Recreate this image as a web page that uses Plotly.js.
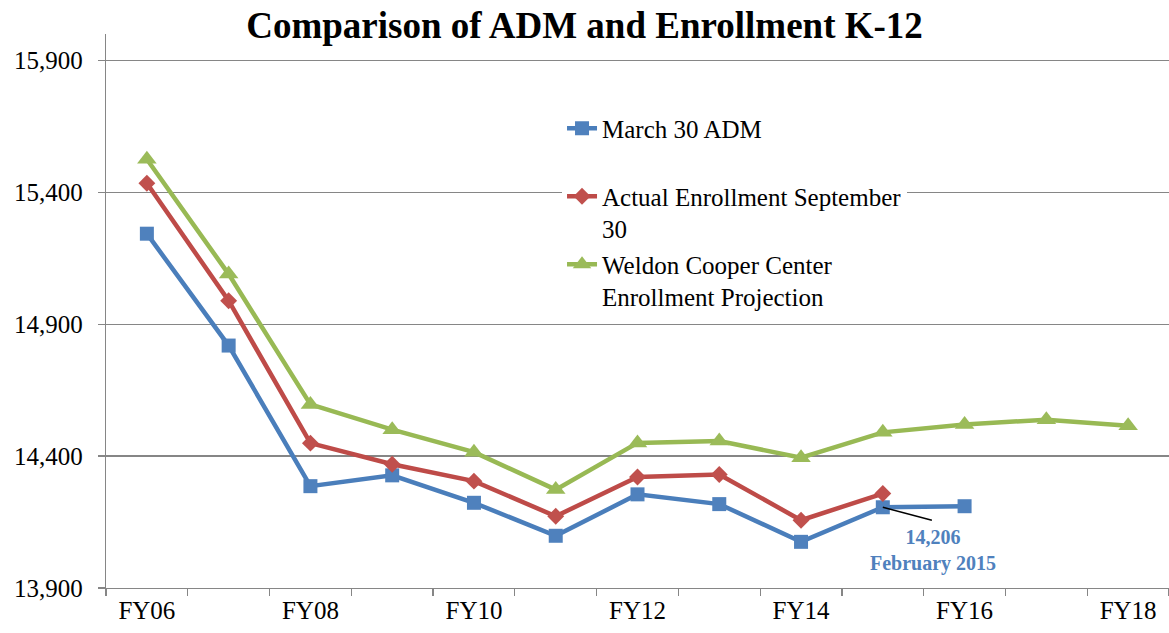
<!DOCTYPE html>
<html>
<head>
<meta charset="utf-8">
<script src="https://cdn.plot.ly/plotly-3.0.1.min.js"></script>
<style>html,body{margin:0;padding:0;background:#fff;}#chart{width:1169px;height:633px;}</style>
</head>
<body>
<div id="chart"></div>
<script>
const categories = ['FY06','FY07','FY08','FY09','FY10','FY11','FY12','FY13','FY14','FY15','FY16','FY17','FY18'];
const tickLabels = ['FY06','','FY08','','FY10','','FY12','','FY14','','FY16','','FY18'];
const marchADM = [15243, 14819, 14286, 14327, 14223, 14098, 14255, 14218, 14075, 14206, 14210, null, null];
const actualEnrollment = [15434, 14989, 14449, 14369, 14305, 14172, 14321, 14330, 14157, 14258, null, null, null];
const weldonProjection = [15525, 15090, 14596, 14500, 14415, 14273, 14450, 14457, 14394, 14490, 14520, 14538, 14515];
const seriesNames = ['March 30 ADM<br> ', 'Actual Enrollment September<br>30', 'Weldon Cooper Center<br>Enrollment Projection'];
const calloutCategory = 'FY15';
const calloutValue = 14206;
const calloutText = '14,206<br>February 2015';

const serif = '"Liberation Serif", "Times New Roman", serif';
const grid = '#868686';

const traces = [
  {x: categories, y: marchADM, name: seriesNames[0], legendgroup: 'a', mode: 'lines+markers',
   line: {color: '#4A7EBB', width: 4.5}, marker: {symbol: 'square', size: 14, color: '#4F81BD'}},
  {x: categories, y: actualEnrollment, name: seriesNames[1], legendgroup: 'b', mode: 'lines+markers',
   line: {color: '#BE4B48', width: 4.5}, marker: {symbol: 'diamond', size: 13, color: '#C0504D'}},
  {x: categories, y: weldonProjection, name: seriesNames[2], legendgroup: 'c', mode: 'lines+markers',
   line: {color: '#98B954', width: 4.5}, marker: {symbol: 'triangle-up', size: 17, color: '#9BBB59'}}
];

const ci = categories.indexOf(calloutCategory);

const layout = {
  width: 1169, height: 633,
  margin: {l: 106, r: 0, t: 34, b: 45},
  paper_bgcolor: '#fff', plot_bgcolor: '#fff',
  font: {family: serif, size: 25, color: '#000'},
  title: {text: '<b>Comparison of ADM and Enrollment K-12</b>', font: {family: serif, size: 37, color: '#000'},
          x: 0.5, xanchor: 'center', y: 0.96, yref: 'container', yanchor: 'middle'},
  xaxis: {type: 'category', categoryorder: 'array', categoryarray: categories,
          tickvals: categories, ticktext: tickLabels, tickson: 'boundaries',
          ticks: 'outside', ticklen: 7, tickcolor: grid, tickwidth: 1.3,
          showline: true, linecolor: grid, linewidth: 1.3, showgrid: false, zeroline: false,
          range: [-0.5, categories.length - 0.5],
          tickfont: {family: serif, size: 25, color: '#000'}},
  yaxis: {range: [13900, 16000], tick0: 13900, dtick: 500, tickformat: ',d',
          ticks: 'outside', ticklen: 7, tickcolor: grid, tickwidth: 1.3,
          showline: true, linecolor: grid, linewidth: 1.3, ticklabelstandoff: 10,
          showgrid: true, gridcolor: grid, gridwidth: 1.3, zeroline: false,
          tickfont: {family: serif, size: 25, color: '#000'}},
  legend: {x: 0.429, xanchor: 'left', y: 0.871, yanchor: 'top', bgcolor: '#fff', borderwidth: 0,
           font: {family: serif, size: 25, color: '#000'}, valign: 'top',
           traceorder: 'grouped', tracegroupgap: 0},
  shapes: [
    {type: 'line', xref: 'x', yref: 'y', x0: ci, y0: calloutValue, x1: ci + 0.6, y1: calloutValue - 49,
     line: {color: '#000', width: 1.5}}
  ],
  annotations: [
    {x: calloutCategory, y: calloutValue, xref: 'x', yref: 'y', text: '<b>' + calloutText + '</b>', showarrow: false,
     xshift: 50, yshift: -43, align: 'center',
     font: {family: serif, size: 20, color: '#4F81BD'}}
  ]
};

Plotly.newPlot('chart', traces, layout, {displayModeBar: false, staticPlot: true});
</script>
</body>
</html>
